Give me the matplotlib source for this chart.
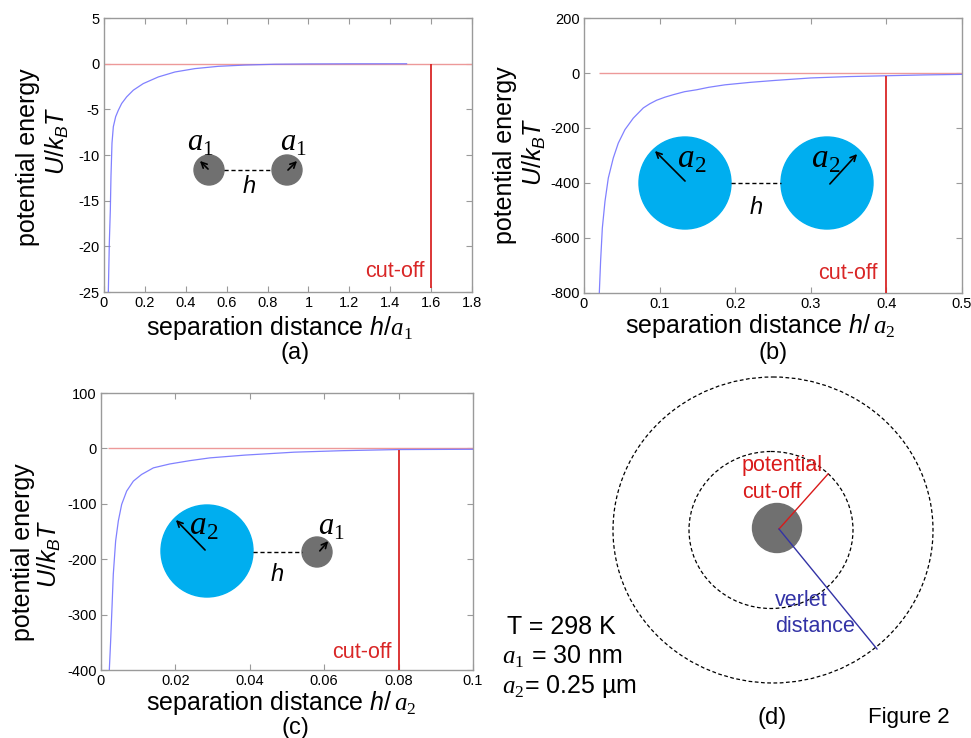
import matplotlib
matplotlib.use("Agg")
import matplotlib.pyplot as plt
from matplotlib.patches import Circle, Ellipse

plt.rcParams["font.family"] = ["Liberation Sans", "DejaVu Sans"]
plt.rcParams["mathtext.fontset"] = "custom"
plt.rcParams["mathtext.rm"] = "Liberation Sans"
plt.rcParams["mathtext.it"] = "Liberation Sans:italic"
plt.rcParams["mathtext.bf"] = "Liberation Sans:bold"
plt.rcParams["mathtext.sf"] = "Liberation Sans"
plt.rcParams["mathtext.cal"] = "Liberation Serif:italic"
plt.rcParams["mathtext.tt"] = "Liberation Serif"
plt.rcParams["axes.unicode_minus"] = False

# ---- data ----
# (a) a1-a1 pair, h/a1
a_h = [0.0212, 0.0261, 0.031, 0.0342, 0.0391, 0.0457, 0.0571, 0.0701, 0.0864,
       0.111, 0.1435, 0.192, 0.266, 0.347, 0.445, 0.559, 0.69, 0.837, 1.0, 1.2, 1.48]
a_u = [-25.0, -19.6, -16.0, -12.3, -8.7, -6.9, -5.8, -5.1, -4.36,
       -3.63, -2.9, -2.18, -1.45, -0.91, -0.54, -0.29, -0.15, -0.06, -0.03, -0.015, -0.01]

# (b) a2-a2 pair, h/a2
b_h = [0.0203, 0.022, 0.0243, 0.0278, 0.0322, 0.0388, 0.0454, 0.0542, 0.0653,
       0.0785, 0.087, 0.0961, 0.107, 0.118, 0.133, 0.149, 0.165, 0.1865, 0.22,
       0.2526, 0.30, 0.35, 0.40, 0.45, 0.50]
b_u = [-800, -685, -564, -467, -382, -309, -255, -206, -164,
       -127, -112, -99, -88, -79, -68, -61, -52, -43, -34,
       -27, -18, -13, -10, -7, -5]

# (c) a2-a1 pair, h/a2
c_h = [0.00224, 0.0026, 0.00296, 0.00331, 0.00394, 0.00466, 0.00556, 0.0069,
       0.0087, 0.0109, 0.0141, 0.0185, 0.0239, 0.0293, 0.0387, 0.052, 0.065, 0.08, 0.1]
c_u = [-400, -347, -287, -227, -167, -131, -101, -77,
       -59, -47, -35, -28, -22, -17, -12, -6.7, -4, -2.0, -1.5]

zero_start = [0.0, 0.02, 0.002]
cutoff_x = [1.6, 0.4, 0.08]
cutoff_top = [0.0, -10.0, -2.0]
cutoff_bottom = [-24.6, -800.0, -400.0]

xlims = [(0, 1.8), (0, 0.5), (0, 0.1)]
ylims = [(-25, 5), (-800, 200), (-400, 100)]
xticks = [[0, 0.2, 0.4, 0.6, 0.8, 1.0, 1.2, 1.4, 1.6, 1.8],
          [0, 0.1, 0.2, 0.3, 0.4, 0.5],
          [0, 0.02, 0.04, 0.06, 0.08, 0.1]]
yticks = [[-25, -20, -15, -10, -5, 0, 5],
          [-800, -600, -400, -200, 0, 200],
          [-400, -300, -200, -100, 0, 100]]

BLUE_CURVE = (0.45, 0.45, 1.0)
ZERO_RED = (0.93, 0.6, 0.6)
CUT_RED = (0.85, 0.15, 0.15)
SPHERE_BLUE = "#00AEEF"
SPHERE_GRAY = "#707070"
SPINE = "#9a9a9a"

fig = plt.figure(figsize=(9.71, 7.38), dpi=100)

rects = [[0.1071, 0.6043, 0.379, 0.3713],
         [0.6014, 0.6030, 0.3893, 0.3726],
         [0.1040, 0.0921, 0.3831, 0.3753]]
curves = [(a_h, a_u), (b_h, b_u), (c_h, c_u)]
cut_text_pos = [(1.57, -22.8), (0.389, -728), (0.078, -368)]

for i, rect in enumerate(rects):
    ax = fig.add_axes(rect)
    h, u = curves[i]
    ax.hlines(0, zero_start[i], xlims[i][1], color=ZERO_RED, lw=1.0, zorder=2)
    ax.plot(h, u, color=BLUE_CURVE, lw=0.9, alpha=0.9, zorder=3)
    ax.vlines(cutoff_x[i], cutoff_bottom[i], cutoff_top[i], color=CUT_RED, lw=1.3, zorder=4)
    ax.text(cut_text_pos[i][0], cut_text_pos[i][1], "cut-off", color=CUT_RED,
            fontsize=15.5, ha="right", va="center")
    ax.set_xlim(*xlims[i])
    ax.set_ylim(*ylims[i])
    ax.set_xticks(xticks[i])
    ax.set_yticks(yticks[i])
    ax.set_xticklabels(["%g" % v for v in xticks[i]])
    ax.set_yticklabels(["%g" % v for v in yticks[i]])
    ax.tick_params(direction="in", top=True, right=True, length=4, width=0.8,
                   color=SPINE, labelsize=10.5, labelcolor="black", pad=3)
    for sp in ax.spines.values():
        sp.set_color(SPINE)
        sp.set_linewidth(1.0)

# overlay in pixel coordinates for labels and sketches
ov = fig.add_axes([0, 0, 1, 1])
ov.set_xlim(0, 971)
ov.set_ylim(738, 0)
ov.axis("off")
ov.patch.set_alpha(0)

# axis labels
ylab1 = [(28, 157), (505, 155), (23, 552)]
ylab2 = [(57, 141), (534, 152), (49, 554)]
for (x1, y1), (x2, y2) in zip(ylab1, ylab2):
    ov.text(x1, y1, "potential energy", fontsize=18, rotation=90, ha="center", va="center")
    ov.text(x2, y2, r"$U/k_BT$", fontsize=18, rotation=90, ha="center", va="center")

xlabels = [r"separation distance $h/\mathcal{a}_{\mathtt{1}}$",
           r"separation distance $h/\,\mathcal{a}_{\mathtt{2}}$",
           r"separation distance $h/\,\mathcal{a}_{\mathtt{2}}$"]
xlab_pos = [(280, 335), (760, 333), (281, 710)]
for lab, (x, y) in zip(xlabels, xlab_pos):
    ov.text(x, y, lab, fontsize=18, ha="center", va="baseline")

for lab, (x, y) in zip(["(a)", "(b)", "(c)", "(d)"],
                       [(295, 353), (773, 353), (295, 728), (772, 718)]):
    ov.text(x, y, lab, fontsize=17, ha="center", va="center")

arrow = dict(arrowstyle="->", lw=1.2, color="black")

# sketch (a): two small spheres
for cx in [209, 287]:
    ov.add_patch(Circle((cx, 170), 15, color=SPHERE_GRAY, zorder=5))
ov.plot([224, 272], [170, 170], "k--", lw=1.0, dashes=(3, 2), zorder=6)
ov.annotate("", xy=(198, 159), xytext=(210, 171), arrowprops=arrow, zorder=7)
ov.annotate("", xy=(299, 159), xytext=(286, 172), arrowprops=arrow, zorder=7)
ov.text(249, 187, r"$h$", fontsize=17, ha="center", va="center", zorder=8)
ov.text(200, 143, r"$\mathcal{a}_{\mathtt{1}}$", fontsize=22, ha="center", va="center", zorder=8)
ov.text(293, 143, r"$\mathcal{a}_{\mathtt{1}}$", fontsize=22, ha="center", va="center", zorder=8)

# sketch (b): two large spheres
for cx in [685, 827]:
    ov.add_patch(Circle((cx, 183), 46, color=SPHERE_BLUE, zorder=5))
ov.plot([731, 781], [183, 183], "k--", lw=1.0, dashes=(3, 2), zorder=6)
ov.annotate("", xy=(653, 149), xytext=(687, 183), arrowprops=arrow, zorder=7)
ov.annotate("", xy=(859, 152), xytext=(828, 186), arrowprops=arrow, zorder=7)
ov.text(756, 208, r"$h$", fontsize=17, ha="center", va="center", zorder=8)
ov.text(692, 159, r"$\mathcal{a}_{\mathtt{2}}$", fontsize=24, ha="center", va="center", zorder=8)
ov.text(826, 159, r"$\mathcal{a}_{\mathtt{2}}$", fontsize=24, ha="center", va="center", zorder=8)

# sketch (c): large and small sphere
ov.add_patch(Circle((207, 551), 46, color=SPHERE_BLUE, zorder=5))
ov.add_patch(Circle((317, 552), 15, color=SPHERE_GRAY, zorder=5))
ov.plot([253, 302], [552, 552], "k--", lw=1.0, dashes=(3, 2), zorder=6)
ov.annotate("", xy=(174, 518), xytext=(207, 552), arrowprops=arrow, zorder=7)
ov.annotate("", xy=(330, 539), xytext=(318, 553), arrowprops=arrow, zorder=7)
ov.text(277, 575, r"$h$", fontsize=17, ha="center", va="center", zorder=8)
ov.text(204, 527, r"$\mathcal{a}_{\mathtt{2}}$", fontsize=24, ha="center", va="center", zorder=8)
ov.text(331, 527, r"$\mathcal{a}_{\mathtt{1}}$", fontsize=22, ha="center", va="center", zorder=8)

# sketch (d): cut-off and verlet shells
ov.add_patch(Ellipse((773, 530), 320, 306, fill=False, ls=(0, (3, 2)), lw=0.9,
                     ec="black", zorder=5))
ov.add_patch(Ellipse((771, 530), 164, 157, fill=False, ls=(0, (3, 2)), lw=0.9,
                     ec="black", zorder=5))
ov.add_patch(Circle((777, 528), 24.5, color=SPHERE_GRAY, zorder=5))
ov.plot([779, 828], [529, 474], color=(0.85, 0.1, 0.1), lw=1.0, zorder=6)
ov.plot([779, 877], [529, 649], color=(0.2, 0.2, 0.65), lw=1.0, zorder=6)
ov.text(742, 466, "potential", color=(0.85, 0.1, 0.1), fontsize=15.5, ha="left", va="center", zorder=8)
ov.text(742, 492, "cut-off", color=(0.85, 0.1, 0.1), fontsize=15.5, ha="left", va="center", zorder=8)
ov.text(775, 600, "verlet", color=(0.2, 0.2, 0.65), fontsize=15.5, ha="left", va="center", zorder=8)
ov.text(775, 627, "distance", color=(0.2, 0.2, 0.65), fontsize=15.5, ha="left", va="center", zorder=8)

ov.text(507, 627, "T = 298 K", fontsize=18, ha="left", va="center")
ov.text(502, 657, r"$\mathcal{a}_{\mathtt{1}}$ = 30 nm", fontsize=18, ha="left", va="center")
ov.text(502, 687, r"$\mathcal{a}_{\mathtt{2}}$= 0.25 µm", fontsize=18, ha="left", va="center")
ov.text(868, 717, "Figure 2", fontsize=16, ha="left", va="center")

fig.savefig("out.png", dpi=100)
